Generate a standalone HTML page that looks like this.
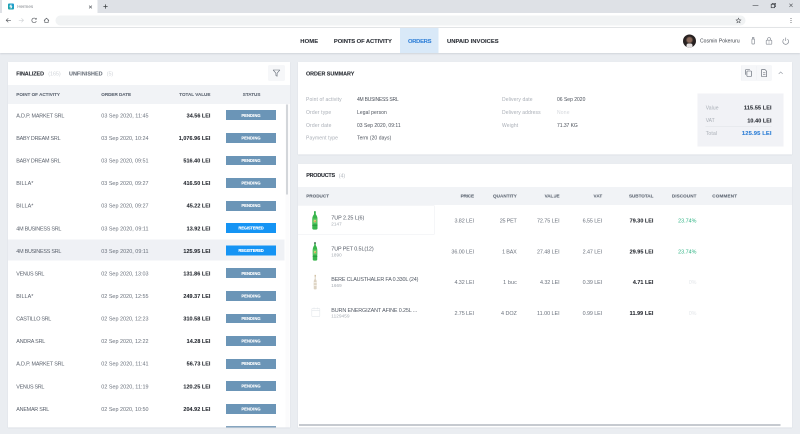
<!DOCTYPE html>
<html><head><meta charset="utf-8"><title>Hermes</title>
<style>
html,body{margin:0;padding:0;}
body{width:800px;height:434px;overflow:hidden;position:relative;background:#eaedf1;font-family:"Liberation Sans",sans-serif;}
.abs{position:absolute;}
.t{position:absolute;white-space:nowrap;line-height:1;transform:translateY(-50%);}

#tabbar{left:0;top:0;width:1600px;height:26px;background:#dee1e6;}
#tab{left:4.4px;top:-2px;width:190.6px;height:28.8px;background:#fff;border-radius:4px 4px 0 0;}
#toolbar{left:0;top:26px;width:1600px;height:28.8px;background:#fff;border-bottom:1.2px solid #d3d6da;}
#url{left:111px;top:30.6px;width:1380px;height:20.8px;background:#f1f3f4;border-radius:10.4px;}
#hdr{left:0;top:56px;width:1600px;height:50px;background:#fff;box-shadow:0 1.2px 4px rgba(60,70,90,.22);}
#navsel{left:800px;top:56px;width:76.8px;height:50px;background:#d9e9f8;}
.panel{position:absolute;background:#fff;box-shadow:0 0.8px 2px rgba(60,70,90,.14);}
.thband{position:absolute;background:#f1f3f6;}
.badge{position:absolute;width:100.2px;height:19.6px;}
.bp{background:#6b95b7;}
.br{background:#1594f4;}
.ibtn{position:absolute;background:#f6f7f9;border:0.6px solid #eef0f3;box-sizing:border-box;}

#wrap{position:absolute;left:0;top:0;width:1600px;height:868px;overflow:hidden;transform:scale(0.5);transform-origin:0 0;will-change:transform;}
</style></head><body><div id="wrap">

<div id="tabbar" class="abs"></div>
<div id="tab" class="abs"></div>
<div class="abs" style="left:16px;top:7px;width:12.4px;height:12.4px;border-radius:2px;background:linear-gradient(45deg,#1aa59e,#1e9bd9);"></div>
<svg class="abs" style="left:16.2px;top:7.2px" width="12" height="12" viewBox="0 0 6 6"><path d="M4 1.6 L2.3 1.6 L2 3 L3.8 3 L3.5 4.4 L1.8 4.4" fill="none" stroke="#fff" stroke-width="0.8"/></svg>
<div class="t" style="font-size:9.166px;color:#84888e;letter-spacing:-0.014px;left:34.4px;top:13.6px;">Hermes</div>
<svg class="abs" style="left:177px;top:10px" width="8" height="8" viewBox="0 0 4 4"><path d="M0.6 0.6L3.4 3.4M3.4 0.6L0.6 3.4" stroke="#5f6368" stroke-width="0.7"/></svg>
<svg class="abs" style="left:206px;top:8px" width="10" height="10" viewBox="0 0 5 5"><path d="M2.5 0.4V4.6M0.4 2.5H4.6" stroke="#3c4043" stroke-width="0.75"/></svg>
<svg class="abs" style="left:1504px;top:4px" width="92" height="14" viewBox="0 0 46 7"><path d="M0.6 3.4H6.4" stroke="#4a4d52" stroke-width="0.6"/><rect x="19.2" y="2.3" width="3.4" height="3.4" fill="none" stroke="#3e4146" stroke-width="0.7"/><path d="M20.2 2.3V1.3H23.6V4.7H22.6" fill="none" stroke="#3e4146" stroke-width="0.6"/><path d="M37.4 1.7L40.6 4.9M40.6 1.7L37.4 4.9" stroke="#4a4d52" stroke-width="0.55"/></svg>
<div id="toolbar" class="abs"></div>
<div id="url" class="abs"></div>
<svg class="abs" style="left:8px;top:32px" width="100" height="18" viewBox="0 0 50 9">
<path d="M6.9 4.3H2.3M4.3 2.3L2.2 4.3L4.3 6.3" fill="none" stroke="#54585e" stroke-width="0.65"/>
<path d="M14.8 4.3H19.4M17.4 2.3L19.5 4.3L17.4 6.3" fill="none" stroke="#d0d3d6" stroke-width="0.65"/>
<path d="M31.9 2.9A2.3 2.3 0 1 0 32.3 5.1" fill="none" stroke="#54585e" stroke-width="0.65"/><path d="M32.7 1.7V3.5H30.9Z" fill="#54585e"/>
<path d="M40 4.5L42.5 2.2L45 4.5M40.8 4.1V6.4H44.2V4.1" fill="none" stroke="#54585e" stroke-width="0.65"/>
</svg>
<svg class="abs" style="left:1470.8px;top:35px" width="12" height="12" viewBox="0 0 6 6"><path d="M3 0.7L3.7 2.3L5.4 2.45L4.1 3.55L4.5 5.2L3 4.3L1.5 5.2L1.9 3.55L0.6 2.45L2.3 2.3Z" fill="none" stroke="#4a4d52" stroke-width="0.55"/></svg>
<svg class="abs" style="left:1580px;top:35.2px" width="4" height="12" viewBox="0 0 2 6"><circle cx="1" cy="1" r="0.5" fill="#4a4d52"/><circle cx="1" cy="3" r="0.5" fill="#4a4d52"/><circle cx="1" cy="5" r="0.5" fill="#4a4d52"/></svg>
<div id="hdr" class="abs"></div>
<div id="navsel" class="abs"></div>
<div class="t" style="font-size:11.666px;color:#2d3138;letter-spacing:0.224px;font-weight:bold;-webkit-text-stroke:0.2px;left:600.6px;top:82.2px;">HOME</div>
<div class="t" style="font-size:11.666px;color:#2d3138;letter-spacing:-0.166px;font-weight:bold;-webkit-text-stroke:0.2px;left:667.8px;top:82.2px;">POINTS OF ACTIVITY</div>
<div class="t" style="font-size:11.666px;color:#3583d8;letter-spacing:-0.58px;font-weight:bold;-webkit-text-stroke:0.2px;left:816px;top:82.2px;">ORDERS</div>
<div class="t" style="font-size:11.666px;color:#2d3138;letter-spacing:0.04px;font-weight:bold;-webkit-text-stroke:0.2px;left:894px;top:82.2px;">UNPAID INVOICES</div>
<div class="abs" style="left:1365.8px;top:68.6px;width:26px;height:26px;border-radius:50%;background:radial-gradient(circle at 50% 42%, #8a6a5c 0 22%, #2a2322 38%, #1e1b1d 100%);overflow:hidden;"><div class="abs" style="left:7px;top:18px;width:12px;height:10px;background:#e8e4e4;border-radius:4px 4px 0 0;"></div></div>
<div class="t" style="font-size:10px;color:#3a3f47;letter-spacing:0.144px;left:1400px;top:82.2px;">Cosmin Pokeruru</div>
<svg class="abs" style="left:1496px;top:70px" width="88" height="24" viewBox="0 0 44 12">
<rect x="3.9" y="4" width="2.6" height="5" rx="0.6" fill="none" stroke="#858a93" stroke-width="0.65"/><rect x="4.5" y="2.3" width="1.4" height="1.7" fill="none" stroke="#858a93" stroke-width="0.6"/>
<rect x="18.2" y="5.2" width="5.6" height="4" rx="0.5" fill="none" stroke="#858a93" stroke-width="0.65"/><path d="M19.4 5.2V4.2A1.6 1.6 0 0 1 22.6 4.2V5.2" fill="none" stroke="#858a93" stroke-width="0.65"/><path d="M21 5.2V9.2" stroke="#8a8f98" stroke-width="0.4"/>
<path d="M36 4.1A2.9 2.9 0 1 0 39.4 4.1" fill="none" stroke="#858a93" stroke-width="0.7"/><path d="M37.7 2.6V6" stroke="#858a93" stroke-width="0.7"/>
</svg>
<div class="panel" style="left:16px;top:124px;width:563.6px;height:731px;"></div>
<div class="t" style="font-size:10.834px;color:#2b2f36;letter-spacing:-0.144px;font-weight:bold;-webkit-text-stroke:0.2px;left:32.6px;top:147px;">FINALIZED</div>
<div class="t" style="font-size:10.834px;color:#d0d4d9;letter-spacing:-0.06px;left:96.4px;top:147.2px;">(165)</div>
<div class="t" style="font-size:10.834px;color:#6b727c;letter-spacing:0.102px;font-weight:bold;-webkit-text-stroke:0.2px;left:138px;top:147px;">UNFINISHED</div>
<div class="t" style="font-size:10.834px;color:#d0d4d9;letter-spacing:-0.212px;left:213.6px;top:147.2px;">(5)</div>
<div class="ibtn" style="left:537px;top:130.6px;width:31.8px;height:30.4px;"></div>
<svg class="abs" style="left:544.6px;top:137.8px" width="16" height="16" viewBox="0 0 8 8"><path d="M0.7 1H7.3L4.6 4.2V7.3L3.4 6.5V4.2Z" fill="none" stroke="#676e79" stroke-width="0.6" stroke-linejoin="round"/></svg>
<div class="thband" style="left:16px;top:170px;width:563.6px;height:38px;"></div>
<div class="t" style="font-size:9.166px;color:#646c78;letter-spacing:0.01px;font-weight:bold;-webkit-text-stroke:0.2px;left:32.6px;top:189.6px;">POINT OF ACTIVITY</div>
<div class="t" style="font-size:9.166px;color:#646c78;letter-spacing:-0.042px;font-weight:bold;-webkit-text-stroke:0.2px;left:202.6px;top:189.6px;">ORDER DATE</div>
<div class="t" style="font-size:9.166px;color:#646c78;letter-spacing:-0.004px;font-weight:bold;-webkit-text-stroke:0.2px;right:1179.2px;top:189.6px;">TOTAL VALUE</div>
<div class="t" style="font-size:9.166px;color:#646c78;letter-spacing:-0.024px;font-weight:bold;-webkit-text-stroke:0.2px;left:485.6px;top:189.6px;">STATUS</div>
<div class="abs" style="left:16px;top:478.9px;width:553.2px;height:42.54px;background:#eff1f5;"></div>
<div class="t" style="font-size:10.834px;color:#5a616c;letter-spacing:-0.36px;left:32.6px;top:230.78px;">A.D.P. MARKET SRL</div>
<div class="t" style="font-size:10.834px;color:#6a717c;letter-spacing:0.046px;left:202.6px;top:230.78px;">03 Sep 2020, 11:45</div>
<div class="t" style="font-size:10.834px;color:#2b2f36;letter-spacing:0.072px;font-weight:bold;-webkit-text-stroke:0.2px;right:1179.12px;top:230.78px;">34.56 LEI</div>
<div class="badge bp" style="left:451.8px;top:220.38px;"></div>
<div class="t" style="font-size:8.334px;color:#fff;letter-spacing:0.104px;font-weight:bold;-webkit-text-stroke:0.2px;left:482.66px;top:230.58px;">PENDING</div>
<div class="t" style="font-size:10.834px;color:#5a616c;letter-spacing:-0.486px;left:32.6px;top:275.92px;">BABY DREAM SRL</div>
<div class="t" style="font-size:10.834px;color:#6a717c;letter-spacing:0px;left:202.6px;top:275.92px;">03 Sep 2020, 10:24</div>
<div class="t" style="font-size:10.834px;color:#2b2f36;letter-spacing:0.122px;font-weight:bold;-webkit-text-stroke:0.2px;right:1179.08px;top:275.92px;">1,076.96 LEI</div>
<div class="badge bp" style="left:451.8px;top:265.52px;"></div>
<div class="t" style="font-size:8.334px;color:#fff;letter-spacing:0.104px;font-weight:bold;-webkit-text-stroke:0.2px;left:482.66px;top:275.72px;">PENDING</div>
<div class="t" style="font-size:10.834px;color:#5a616c;letter-spacing:-0.486px;left:32.6px;top:321.08px;">BABY DREAM SRL</div>
<div class="t" style="font-size:10.834px;color:#6a717c;letter-spacing:0px;left:202.6px;top:321.08px;">03 Sep 2020, 09:51</div>
<div class="t" style="font-size:10.834px;color:#2b2f36;letter-spacing:0.116px;font-weight:bold;-webkit-text-stroke:0.2px;right:1179.08px;top:321.08px;">516.40 LEI</div>
<div class="badge bp" style="left:451.8px;top:310.68px;"></div>
<div class="t" style="font-size:8.334px;color:#fff;letter-spacing:0.104px;font-weight:bold;-webkit-text-stroke:0.2px;left:482.66px;top:320.88px;">PENDING</div>
<div class="t" style="font-size:10.834px;color:#5a616c;letter-spacing:0.066px;left:32.6px;top:366.22px;">BILLA*</div>
<div class="t" style="font-size:10.834px;color:#6a717c;letter-spacing:0px;left:202.6px;top:366.22px;">03 Sep 2020, 09:27</div>
<div class="t" style="font-size:10.834px;color:#2b2f36;letter-spacing:0.116px;font-weight:bold;-webkit-text-stroke:0.2px;right:1179.08px;top:366.22px;">416.50 LEI</div>
<div class="badge bp" style="left:451.8px;top:355.82px;"></div>
<div class="t" style="font-size:8.334px;color:#fff;letter-spacing:0.104px;font-weight:bold;-webkit-text-stroke:0.2px;left:482.66px;top:366.02px;">PENDING</div>
<div class="t" style="font-size:10.834px;color:#5a616c;letter-spacing:0.066px;left:32.6px;top:411.38px;">BILLA*</div>
<div class="t" style="font-size:10.834px;color:#6a717c;letter-spacing:0px;left:202.6px;top:411.38px;">03 Sep 2020, 09:27</div>
<div class="t" style="font-size:10.834px;color:#2b2f36;letter-spacing:0.072px;font-weight:bold;-webkit-text-stroke:0.2px;right:1179.12px;top:411.38px;">45.22 LEI</div>
<div class="badge bp" style="left:451.8px;top:400.98px;"></div>
<div class="t" style="font-size:8.334px;color:#fff;letter-spacing:0.104px;font-weight:bold;-webkit-text-stroke:0.2px;left:482.66px;top:411.18px;">PENDING</div>
<div class="t" style="font-size:10.834px;color:#5a616c;letter-spacing:-0.474px;left:32.6px;top:456.52px;">4M BUSINESS SRL</div>
<div class="t" style="font-size:10.834px;color:#6a717c;letter-spacing:0.046px;left:202.6px;top:456.52px;">03 Sep 2020, 09:11</div>
<div class="t" style="font-size:10.834px;color:#2b2f36;letter-spacing:0.072px;font-weight:bold;-webkit-text-stroke:0.2px;right:1179.12px;top:456.52px;">13.92 LEI</div>
<div class="badge br" style="left:451.8px;top:446.12px;"></div>
<div class="t" style="font-size:8.334px;color:#fff;letter-spacing:-0.368px;font-weight:bold;-webkit-text-stroke:0.2px;left:476.76px;top:456.32px;">REGISTERED</div>
<div class="t" style="font-size:10.834px;color:#5a616c;letter-spacing:-0.474px;left:32.6px;top:501.68px;">4M BUSINESS SRL</div>
<div class="t" style="font-size:10.834px;color:#6a717c;letter-spacing:0.046px;left:202.6px;top:501.68px;">03 Sep 2020, 09:11</div>
<div class="t" style="font-size:10.834px;color:#2b2f36;letter-spacing:0.116px;font-weight:bold;-webkit-text-stroke:0.2px;right:1179.08px;top:501.68px;">125.95 LEI</div>
<div class="badge br" style="left:451.8px;top:491.28px;"></div>
<div class="t" style="font-size:8.334px;color:#fff;letter-spacing:-0.368px;font-weight:bold;-webkit-text-stroke:0.2px;left:476.76px;top:501.48px;">REGISTERED</div>
<div class="t" style="font-size:10.834px;color:#5a616c;letter-spacing:-0.65px;left:32.6px;top:546.82px;">VENUS SRL</div>
<div class="t" style="font-size:10.834px;color:#6a717c;letter-spacing:0px;left:202.6px;top:546.82px;">02 Sep 2020, 13:03</div>
<div class="t" style="font-size:10.834px;color:#2b2f36;letter-spacing:0.116px;font-weight:bold;-webkit-text-stroke:0.2px;right:1179.08px;top:546.82px;">131.86 LEI</div>
<div class="badge bp" style="left:451.8px;top:536.42px;"></div>
<div class="t" style="font-size:8.334px;color:#fff;letter-spacing:0.104px;font-weight:bold;-webkit-text-stroke:0.2px;left:482.66px;top:546.62px;">PENDING</div>
<div class="t" style="font-size:10.834px;color:#5a616c;letter-spacing:0.066px;left:32.6px;top:591.98px;">BILLA*</div>
<div class="t" style="font-size:10.834px;color:#6a717c;letter-spacing:0px;left:202.6px;top:591.98px;">02 Sep 2020, 12:55</div>
<div class="t" style="font-size:10.834px;color:#2b2f36;letter-spacing:0.116px;font-weight:bold;-webkit-text-stroke:0.2px;right:1179.08px;top:591.98px;">249.37 LEI</div>
<div class="badge bp" style="left:451.8px;top:581.58px;"></div>
<div class="t" style="font-size:8.334px;color:#fff;letter-spacing:0.104px;font-weight:bold;-webkit-text-stroke:0.2px;left:482.66px;top:591.78px;">PENDING</div>
<div class="t" style="font-size:10.834px;color:#5a616c;letter-spacing:-0.588px;left:32.6px;top:637.12px;">CASTILLO SRL</div>
<div class="t" style="font-size:10.834px;color:#6a717c;letter-spacing:0px;left:202.6px;top:637.12px;">02 Sep 2020, 12:23</div>
<div class="t" style="font-size:10.834px;color:#2b2f36;letter-spacing:0.116px;font-weight:bold;-webkit-text-stroke:0.2px;right:1179.08px;top:637.12px;">310.58 LEI</div>
<div class="badge bp" style="left:451.8px;top:626.72px;"></div>
<div class="t" style="font-size:8.334px;color:#fff;letter-spacing:0.104px;font-weight:bold;-webkit-text-stroke:0.2px;left:482.66px;top:636.92px;">PENDING</div>
<div class="t" style="font-size:10.834px;color:#5a616c;letter-spacing:-0.428px;left:32.6px;top:682.28px;">ANDRA SRL</div>
<div class="t" style="font-size:10.834px;color:#6a717c;letter-spacing:0px;left:202.6px;top:682.28px;">02 Sep 2020, 12:22</div>
<div class="t" style="font-size:10.834px;color:#2b2f36;letter-spacing:0.072px;font-weight:bold;-webkit-text-stroke:0.2px;right:1179.12px;top:682.28px;">14.28 LEI</div>
<div class="badge bp" style="left:451.8px;top:671.88px;"></div>
<div class="t" style="font-size:8.334px;color:#fff;letter-spacing:0.104px;font-weight:bold;-webkit-text-stroke:0.2px;left:482.66px;top:682.08px;">PENDING</div>
<div class="t" style="font-size:10.834px;color:#5a616c;letter-spacing:-0.36px;left:32.6px;top:727.42px;">A.D.P. MARKET SRL</div>
<div class="t" style="font-size:10.834px;color:#6a717c;letter-spacing:0.046px;left:202.6px;top:727.42px;">02 Sep 2020, 11:41</div>
<div class="t" style="font-size:10.834px;color:#2b2f36;letter-spacing:0.072px;font-weight:bold;-webkit-text-stroke:0.2px;right:1179.12px;top:727.42px;">56.73 LEI</div>
<div class="badge bp" style="left:451.8px;top:717.02px;"></div>
<div class="t" style="font-size:8.334px;color:#fff;letter-spacing:0.104px;font-weight:bold;-webkit-text-stroke:0.2px;left:482.66px;top:727.22px;">PENDING</div>
<div class="t" style="font-size:10.834px;color:#5a616c;letter-spacing:-0.65px;left:32.6px;top:772.58px;">VENUS SRL</div>
<div class="t" style="font-size:10.834px;color:#6a717c;letter-spacing:0.046px;left:202.6px;top:772.58px;">02 Sep 2020, 11:19</div>
<div class="t" style="font-size:10.834px;color:#2b2f36;letter-spacing:0.116px;font-weight:bold;-webkit-text-stroke:0.2px;right:1179.08px;top:772.58px;">120.25 LEI</div>
<div class="badge bp" style="left:451.8px;top:762.18px;"></div>
<div class="t" style="font-size:8.334px;color:#fff;letter-spacing:0.104px;font-weight:bold;-webkit-text-stroke:0.2px;left:482.66px;top:772.38px;">PENDING</div>
<div class="t" style="font-size:10.834px;color:#5a616c;letter-spacing:-0.498px;left:32.6px;top:817.72px;">ANEMAR SRL</div>
<div class="t" style="font-size:10.834px;color:#6a717c;letter-spacing:0px;left:202.6px;top:817.72px;">02 Sep 2020, 10:50</div>
<div class="t" style="font-size:10.834px;color:#2b2f36;letter-spacing:0.116px;font-weight:bold;-webkit-text-stroke:0.2px;right:1179.08px;top:817.72px;">204.92 LEI</div>
<div class="badge bp" style="left:451.8px;top:807.32px;"></div>
<div class="t" style="font-size:8.334px;color:#fff;letter-spacing:0.104px;font-weight:bold;-webkit-text-stroke:0.2px;left:482.66px;top:817.52px;">PENDING</div>
<div class="badge bp" style="left:451.8px;top:852px;height:3px;background:#86a5bf;"></div>
<div class="abs" style="left:570.8px;top:208px;width:8.4px;height:647px;background:#fbfbfc;"></div>
<div class="abs" style="left:571.8px;top:208.8px;width:4.6px;height:180px;background:#d3d6da;"></div>
<div class="panel" style="left:596px;top:124px;width:988px;height:185.2px;"></div>
<div class="t" style="font-size:10.834px;color:#2b2f36;letter-spacing:-0.084px;font-weight:bold;-webkit-text-stroke:0.2px;left:612px;top:147px;">ORDER SUMMARY</div>
<div class="ibtn" style="left:1482px;top:130.6px;width:30.6px;height:30.4px;border-right:none;"></div>
<div class="ibtn" style="left:1512.6px;top:130.6px;width:30.6px;height:30.4px;"></div>
<svg class="abs" style="left:1482px;top:131.2px" width="90" height="30" viewBox="0 0 45 15">
<rect x="5.9" y="5.5" width="4.6" height="5.5" rx="0.7" fill="none" stroke="#545b66" stroke-width="0.6"/><path d="M4.5 9.3V4.7A0.7 0.7 0 0 1 5.2 4H8.9" fill="none" stroke="#545b66" stroke-width="0.6"/>
<path d="M20.6 4.1H24L25.7 5.8V11H20.6Z" fill="none" stroke="#545b66" stroke-width="0.6" stroke-linejoin="round"/><path d="M21.9 7.3H24.4M21.9 8.8H24.4" stroke="#545b66" stroke-width="0.5"/>
<path d="M37.7 8.4L39.7 6.4L41.7 8.4" fill="none" stroke="#9096a0" stroke-width="0.6"/>
</svg>
<div class="t" style="font-size:10px;color:#a9aeb6;letter-spacing:0.248px;left:612px;top:199.4px;">Point of activity</div>
<div class="t" style="font-size:10px;color:#4a505a;letter-spacing:-0.438px;left:714px;top:199.4px;">4M BUSINESS SRL</div>
<div class="t" style="font-size:10px;color:#a9aeb6;letter-spacing:0.338px;left:612px;top:225.2px;">Order type</div>
<div class="t" style="font-size:10px;color:#4a505a;letter-spacing:0.16px;left:714px;top:225.2px;">Legal person</div>
<div class="t" style="font-size:10px;color:#a9aeb6;letter-spacing:0.332px;left:612px;top:250.6px;">Order date</div>
<div class="t" style="font-size:10px;color:#4a505a;letter-spacing:0.042px;left:714px;top:250.6px;">03 Sep 2020, 09:11</div>
<div class="t" style="font-size:10px;color:#a9aeb6;letter-spacing:0.252px;left:612px;top:276.4px;">Payment type</div>
<div class="t" style="font-size:10px;color:#4a505a;letter-spacing:0.138px;left:714px;top:276.4px;">Term (20 days)</div>
<div class="t" style="font-size:10px;color:#a9aeb6;letter-spacing:0.22px;left:1004px;top:199.4px;">Delivery date</div>
<div class="t" style="font-size:10px;color:#4a505a;letter-spacing:0px;left:1114px;top:199.4px;">06 Sep 2020</div>
<div class="t" style="font-size:10px;color:#a9aeb6;letter-spacing:0.186px;left:1004px;top:225.2px;">Delivery address</div>
<div class="t" style="font-size:10px;color:#d4d7dc;letter-spacing:0.356px;left:1114px;top:225.2px;">None</div>
<div class="t" style="font-size:10px;color:#a9aeb6;letter-spacing:0.266px;left:1004px;top:250.6px;">Weight</div>
<div class="t" style="font-size:10px;color:#4a505a;letter-spacing:-0.088px;left:1114px;top:250.6px;">71.37 KG</div>
<div class="abs" style="left:1395.2px;top:186.6px;width:172px;height:106.6px;background:#f1f2f6;"></div>
<div class="t" style="font-size:10px;color:#a9aeb6;letter-spacing:0.192px;left:1411.4px;top:216.4px;">Value</div>
<div class="t" style="font-size:10.834px;color:#2b2f36;letter-spacing:0.284px;font-weight:bold;-webkit-text-stroke:0.2px;right:56.72px;top:215.2px;">115.55 LEI</div>
<div class="t" style="font-size:10px;color:#a9aeb6;letter-spacing:-0.05px;left:1411.4px;top:240.8px;">VAT</div>
<div class="t" style="font-size:10.834px;color:#2b2f36;letter-spacing:0.178px;font-weight:bold;-webkit-text-stroke:0.2px;right:56.82px;top:240.6px;">10.40 LEI</div>
<div class="abs" style="left:1411.4px;top:252.6px;width:132px;height:1px;background:#dfe2e7;"></div>
<div class="t" style="font-size:10px;color:#a9aeb6;letter-spacing:0.414px;left:1411.4px;top:267.2px;">Total</div>
<div class="t" style="font-size:11.666px;color:#2f7fd6;letter-spacing:0.242px;font-weight:bold;-webkit-text-stroke:0.2px;right:56.76px;top:266px;">125.95 LEI</div>
<div class="panel" style="left:596px;top:328px;width:988px;height:526.6px;"></div>
<div class="t" style="font-size:10.834px;color:#2b2f36;letter-spacing:-0.408px;font-weight:bold;-webkit-text-stroke:0.2px;left:612.4px;top:350.4px;">PRODUCTS</div>
<div class="t" style="font-size:10.834px;color:#b4b9c0;letter-spacing:-0.212px;left:677.6px;top:350.6px;">(4)</div>
<div class="thband" style="left:596px;top:373.4px;width:988px;height:37px;"></div>
<div class="t" style="font-size:9.166px;color:#646c78;letter-spacing:0.064px;font-weight:bold;-webkit-text-stroke:0.2px;left:612.4px;top:392.8px;">PRODUCT</div>
<div class="t" style="font-size:9.166px;color:#646c78;letter-spacing:-0.304px;font-weight:bold;-webkit-text-stroke:0.2px;right:652.3px;top:392.8px;">PRICE</div>
<div class="t" style="font-size:9.166px;color:#646c78;letter-spacing:0.11px;font-weight:bold;-webkit-text-stroke:0.2px;right:566.28px;top:392.8px;">QUANTITY</div>
<div class="t" style="font-size:9.166px;color:#646c78;letter-spacing:-0.098px;font-weight:bold;-webkit-text-stroke:0.2px;right:480.9px;top:392.8px;">VALUE</div>
<div class="t" style="font-size:9.166px;color:#646c78;letter-spacing:0.2px;font-weight:bold;-webkit-text-stroke:0.2px;right:395.4px;top:392.8px;">VAT</div>
<div class="t" style="font-size:9.166px;color:#646c78;letter-spacing:-0.014px;font-weight:bold;-webkit-text-stroke:0.2px;right:293.22px;top:392.8px;">SUBTOTAL</div>
<div class="t" style="font-size:9.166px;color:#646c78;letter-spacing:0.184px;font-weight:bold;-webkit-text-stroke:0.2px;right:207.02px;top:392.8px;">DISCOUNT</div>
<div class="t" style="font-size:9.166px;color:#646c78;letter-spacing:0.392px;font-weight:bold;-webkit-text-stroke:0.2px;left:1424.4px;top:392.8px;">COMMENT</div>
<div class="abs" style="left:596px;top:410.8px;width:272.8px;height:58.4px;box-sizing:border-box;border:0.8px solid #eceef1;border-left:none;"></div>
<div class="t" style="font-size:10.834px;color:#525964;letter-spacing:-0.102px;left:662.6px;top:435.2px;">7UP 2.25 L(6)</div>
<div class="t" style="font-size:9.166px;color:#a5abb3;letter-spacing:0.144px;left:662.6px;top:448.8px;">2147</div>
<div class="t" style="font-size:10.834px;color:#6a717c;letter-spacing:-0.176px;right:652.18px;top:441.2px;">3.82 LEI</div>
<div class="t" style="font-size:10.834px;color:#6a717c;letter-spacing:-0.398px;right:566.8px;top:441.2px;">25 PET</div>
<div class="t" style="font-size:10.834px;color:#6a717c;letter-spacing:-0.138px;right:480.94px;top:441.2px;">72.75 LEI</div>
<div class="t" style="font-size:10.834px;color:#6a717c;letter-spacing:-0.176px;right:395.78px;top:441.2px;">6.55 LEI</div>
<div class="t" style="font-size:10.834px;color:#2b2f36;letter-spacing:0.072px;font-weight:bold;-webkit-text-stroke:0.2px;right:293.12px;top:441.2px;">79.30 LEI</div>
<div class="t" style="font-size:10.834px;color:#2eb384;letter-spacing:-0.028px;right:207.22px;top:441.2px;">23.74%</div>
<svg class="abs" style="left:624.3px;top:422.2px" width="11.6" height="37.6" viewBox="0 0 6 19" preserveAspectRatio="none"><path d="M2.1 1.4H3.9V3.3C5.1 5 5.7 6.2 5.7 8V17.5C5.7 18.4 5 18.8 3 18.8C1 18.8 0.3 18.4 0.3 17.5V8C0.3 6.2 0.9 5 2.1 3.3Z" fill="#38b54c"/><rect x="2.1" y="0.2" width="1.8" height="1.5" fill="#2fae4a"/><rect x="0.3" y="7.6" width="5.4" height="5.2" fill="#5fc765"/><circle cx="3" cy="10.2" r="1.3" fill="#d9e27a"/><circle cx="3.2" cy="10.4" r="0.6" fill="#e0523f"/><rect x="0.3" y="14" width="5.4" height="1" fill="#2a9a40"/></svg>
<div class="t" style="font-size:10.834px;color:#525964;letter-spacing:-0.228px;left:662.6px;top:497.2px;">7UP PET 0.5L(12)</div>
<div class="t" style="font-size:9.166px;color:#a5abb3;letter-spacing:0.144px;left:662.6px;top:510.8px;">1890</div>
<div class="t" style="font-size:10.834px;color:#6a717c;letter-spacing:-0.138px;right:652.14px;top:503.2px;">36.00 LEI</div>
<div class="t" style="font-size:10.834px;color:#6a717c;letter-spacing:-0.316px;right:566.72px;top:503.2px;">1 BAX</div>
<div class="t" style="font-size:10.834px;color:#6a717c;letter-spacing:-0.138px;right:480.94px;top:503.2px;">27.48 LEI</div>
<div class="t" style="font-size:10.834px;color:#6a717c;letter-spacing:-0.176px;right:395.78px;top:503.2px;">2.47 LEI</div>
<div class="t" style="font-size:10.834px;color:#2b2f36;letter-spacing:0.072px;font-weight:bold;-webkit-text-stroke:0.2px;right:293.12px;top:503.2px;">29.95 LEI</div>
<div class="t" style="font-size:10.834px;color:#2eb384;letter-spacing:-0.028px;right:207.22px;top:503.2px;">23.74%</div>
<svg class="abs" style="left:625.1px;top:484.2px" width="10" height="37.6" viewBox="0 0 6 19" preserveAspectRatio="none"><path d="M2.1 1.4H3.9V3.3C5.1 5 5.7 6.2 5.7 8V17.5C5.7 18.4 5 18.8 3 18.8C1 18.8 0.3 18.4 0.3 17.5V8C0.3 6.2 0.9 5 2.1 3.3Z" fill="#38b54c"/><rect x="2.1" y="0.2" width="1.8" height="1.5" fill="#27553a"/><rect x="0.3" y="7.6" width="5.4" height="5.2" fill="#5fc765"/><circle cx="3" cy="10.2" r="1.3" fill="#d9e27a"/><circle cx="3.2" cy="10.4" r="0.6" fill="#e0523f"/><rect x="0.3" y="14" width="5.4" height="1" fill="#2a9a40"/></svg>
<div class="t" style="font-size:10.834px;color:#525964;letter-spacing:-0.36px;left:662.6px;top:558.4px;">BERE CLAUSTHALER FA 0.330L (24)</div>
<div class="t" style="font-size:9.166px;color:#a5abb3;letter-spacing:0.144px;left:662.6px;top:572px;">1669</div>
<div class="t" style="font-size:10.834px;color:#6a717c;letter-spacing:-0.176px;right:652.18px;top:564.4px;">4.32 LEI</div>
<div class="t" style="font-size:10.834px;color:#6a717c;letter-spacing:0.19px;right:566.2px;top:564.4px;">1 buc</div>
<div class="t" style="font-size:10.834px;color:#6a717c;letter-spacing:-0.176px;right:480.98px;top:564.4px;">4.32 LEI</div>
<div class="t" style="font-size:10.834px;color:#6a717c;letter-spacing:-0.176px;right:395.78px;top:564.4px;">0.39 LEI</div>
<div class="t" style="font-size:10.834px;color:#2b2f36;letter-spacing:0.018px;font-weight:bold;-webkit-text-stroke:0.2px;right:293.18px;top:564.4px;">4.71 LEI</div>
<div class="t" style="font-size:10.834px;color:#e3e6ea;letter-spacing:-0.272px;right:207.48px;top:564.4px;">0%</div>
<svg class="abs" style="left:626.8px;top:549.2px" width="6.8" height="30.4" viewBox="0 0 4 15" preserveAspectRatio="none"><path d="M1.4 0.4H2.6V4.4C3.4 5.4 3.7 6 3.7 7V13.8C3.7 14.5 3.3 14.7 2 14.7C0.7 14.7 0.3 14.5 0.3 13.8V7C0.3 6 0.6 5.4 1.4 4.4Z" fill="#dcd2c2"/><rect x="1.4" y="0.4" width="1.2" height="1.6" fill="#c9b48f"/><rect x="0.3" y="7.4" width="3.4" height="4" fill="#f1ece3"/><rect x="0.3" y="9" width="3.4" height="0.8" fill="#c8b9a0"/></svg>
<div class="t" style="font-size:10.834px;color:#525964;letter-spacing:-0.256px;left:662.6px;top:619.6px;">BURN ENERGIZANT AFINE 0.25L ...</div>
<div class="t" style="font-size:9.166px;color:#a5abb3;letter-spacing:0.24px;left:662.6px;top:633.2px;">1129459</div>
<div class="t" style="font-size:10.834px;color:#6a717c;letter-spacing:-0.176px;right:652.18px;top:625.6px;">2.75 LEI</div>
<div class="t" style="font-size:10.834px;color:#6a717c;letter-spacing:-0.076px;right:566.48px;top:625.6px;">4 DOZ</div>
<div class="t" style="font-size:10.834px;color:#6a717c;letter-spacing:-0.048px;right:480.84px;top:625.6px;">11.00 LEI</div>
<div class="t" style="font-size:10.834px;color:#6a717c;letter-spacing:-0.176px;right:395.78px;top:625.6px;">0.99 LEI</div>
<div class="t" style="font-size:10.834px;color:#2b2f36;letter-spacing:0.138px;font-weight:bold;-webkit-text-stroke:0.2px;right:293.06px;top:625.6px;">11.99 LEI</div>
<div class="t" style="font-size:10.834px;color:#e3e6ea;letter-spacing:-0.272px;right:207.48px;top:625.6px;">0%</div>
<svg class="abs" style="left:621.6px;top:614px" width="19.2" height="20.8" viewBox="0 0 9.6 10.4"><rect x="0.8" y="1.4" width="8" height="8.2" rx="0.7" fill="none" stroke="#e4e7eb" stroke-width="0.6"/><path d="M0.8 3.6H8.8M3 0.5V2.2M6.6 0.5V2.2" stroke="#e4e7eb" stroke-width="0.6"/></svg>
<div class="abs" style="left:598px;top:848px;width:963px;height:3.6px;background:#c6cad0;"></div>
</div></body></html>
